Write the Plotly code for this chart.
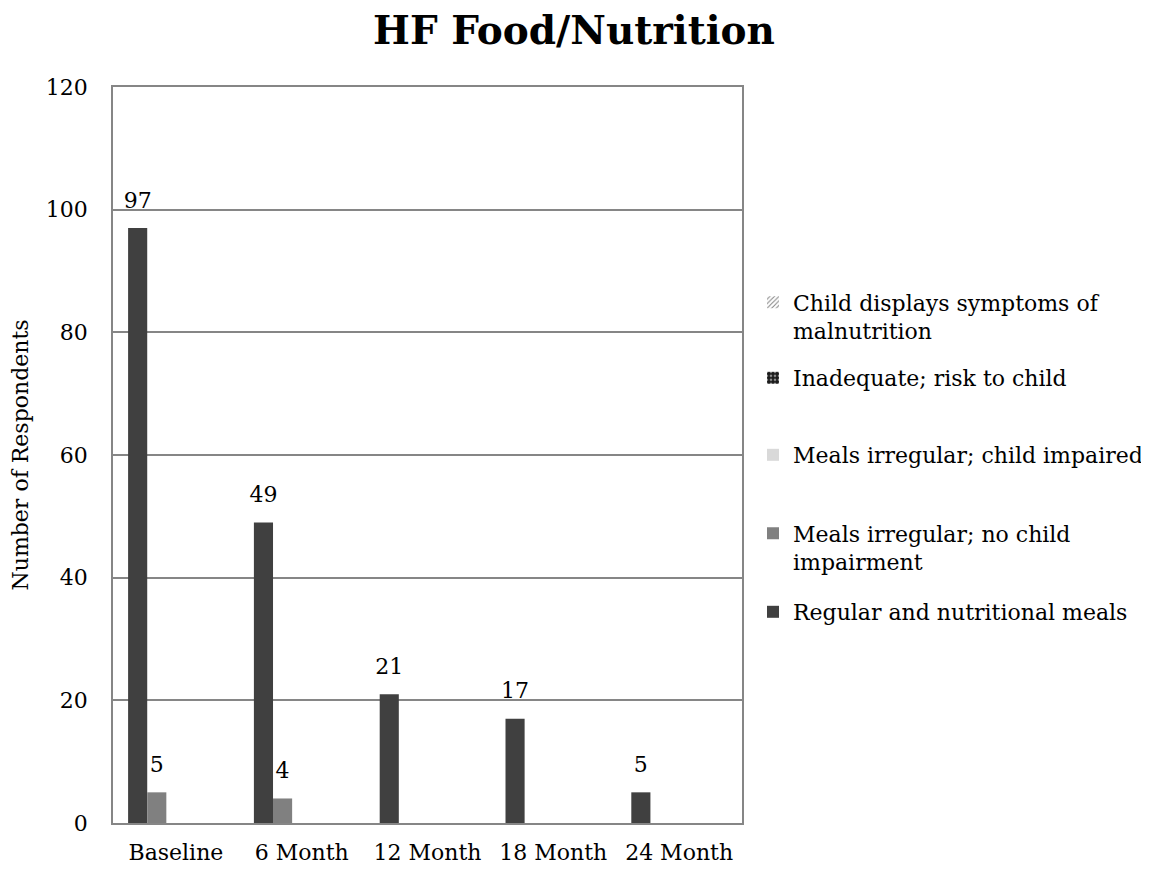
import plotly.graph_objects as go

categories = ["Baseline", "6 Month", "12 Month", "18 Month", "24 Month"]
series_names = [
    "Regular and nutritional meals",
    "Meals irregular; no child<br>impairment",
    "Meals irregular; child impaired",
    "Inadequate; risk to child",
    "Child displays symptoms of<br>malnutrition",
]
regular = [97, 49, 21, 17, 5]
irregular_no_impair = [5, 4, 0, 0, 0]
irregular_impaired = [0, 0, 0, 0, 0]
inadequate = [0, 0, 0, 0, 0]
symptoms = [0, 0, 0, 0, 0]
values = [regular, irregular_no_impair, irregular_impaired, inadequate, symptoms]
y_ticks = [0, 20, 40, 60, 80, 100, 120]

colors = ["#404040", "#808080", "#d9d9d9", "#1a1a1a", "#ffffff"]
patterns = [None, None, None,
            dict(shape=".", fgcolor="#ffffff", bgcolor="#1a1a1a", size=5, solidity=0.35),
            dict(shape="/", fgcolor="#000000", bgcolor="#ffffff", size=4, solidity=0.3)]

SERIF = "DejaVu Serif"
FS = 22

# the page has an 8px body margin; figure coords = page coords - 8
OFF = 8
W, H = 1149 - OFF, 871 - OFF
PL, PR, PT, PB = 113 - OFF, 742 - OFF, 87 - OFF, 823 - OFF
H_PLOT = PB - PT
W_PLOT = PR - PL

# legend first-line centres (page px) and number of lines
leg_py = [612, 533, 455, 378, 302]
leg_lines = [1, 2, 1, 1, 2]

fig = go.Figure()
for i, (name, vals) in enumerate(zip(series_names, values)):
    texts = [f"<span style='font-size:{FS}px'>{v}</span><br> " if v else "" for v in vals]
    marker = dict(color=colors[i], line=dict(width=0))
    if patterns[i]:
        marker["pattern"] = patterns[i]
    lg = "legend" if i == 0 else f"legend{i+1}"
    fig.add_trace(go.Bar(
        x=categories, y=vals, name=name, marker=marker,
        text=texts, textposition="outside", cliponaxis=False, constraintext="none",
        textfont=dict(family=SERIF, size=11, color="#000000"),
        legend=lg,
    ))

layout_legends = {}
for i in range(5):
    lg = "legend" if i == 0 else f"legend{i+1}"
    centre = leg_py[i] - OFF + (leg_lines[i] - 1) * 15
    layout_legends[lg] = dict(
        x=(753 - 113) / W_PLOT, xanchor="left",
        y=(PB - centre) / H_PLOT, yanchor="middle",
        font=dict(family=SERIF, size=FS, color="#000000"),
        bgcolor="rgba(0,0,0,0)", borderwidth=0, valign="top",
    )

fig.update_layout(
    width=W, height=H,
    margin=dict(l=PL, r=W - PR, t=PT, b=H - PB, autoexpand=False),
    paper_bgcolor="#ffffff", plot_bgcolor="#ffffff",
    barmode="group", bargap=0.24, bargroupgap=0,
    title=dict(text="<b>HF Food/Nutrition</b>", x=(574 - 113) / W_PLOT, xanchor="center", xref="paper",
               y=1 - (30 - OFF) / H, yanchor="middle", yref="container",
               font=dict(family=SERIF, size=39, color="#000000")),
    showlegend=True,
    **layout_legends,
)

fig.update_xaxes(
    automargin=False,
    showline=True, linecolor="#868686", linewidth=1.5, mirror=True,
    showgrid=False, ticks="", ticklabelstandoff=9,
    tickfont=dict(family=SERIF, size=FS, color="#000000"),
)
fig.update_yaxes(
    automargin=False,
    range=[0, 120], tickvals=y_ticks, ticktext=[str(t) for t in y_ticks],
    showline=True, linecolor="#868686", linewidth=1.5, mirror=True,
    showgrid=True, gridcolor="#868686", gridwidth=1.5, zeroline=False,
    ticks="", ticklabelstandoff=19,
    tickfont=dict(family=SERIF, size=FS, color="#000000"),
    title=dict(text="Number of Respondents", standoff=11,
               font=dict(family=SERIF, size=FS, color="#000000")),
)

fig.write_html("out.html")
